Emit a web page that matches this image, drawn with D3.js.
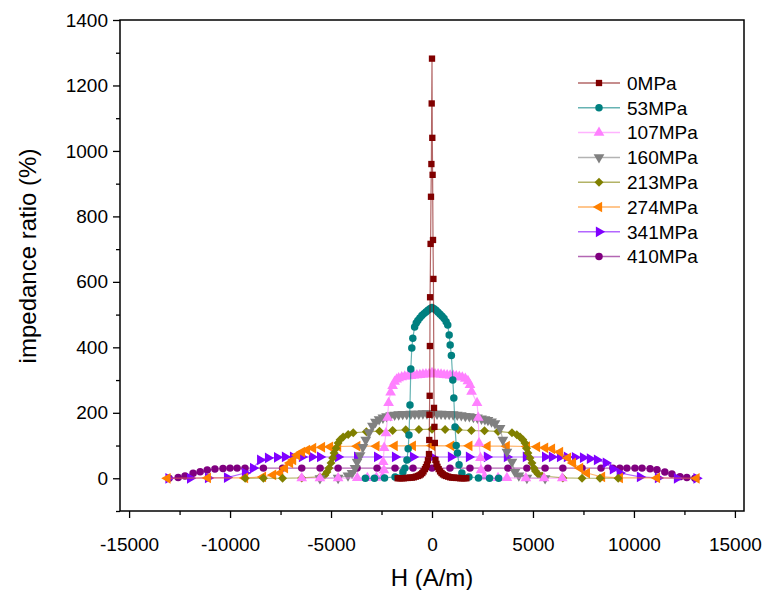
<!DOCTYPE html>
<html><head><meta charset="utf-8">
<script src="https://cdn.jsdelivr.net/npm/d3@7"></script>
<style>body{margin:0;background:#fff;} text{font-family:Arial,"Liberation Sans",sans-serif;fill:#000;}</style>
</head><body><svg id="c" width="763" height="590"></svg>
<script>
const seriesNames = ["0MPa","53MPa","107MPa","160MPa","213MPa","274MPa","341MPa","410MPa"];
const seriesColors = ["#800000","#008080","#ff80ff","#808080","#808000","#ff8000","#8000ff","#800080"];
const seriesSymbols = ["square","circle","triUp","triDown","diamond","triLeft","triRight","circle"];
const xTicks = [-15000,-10000,-5000,0,5000,10000,15000];
const yTicks = [0,200,400,600,800,1000,1200,1400];

const s0MPa = [[-1700,0],[-1600,0],[-1500,0],[-1400,0],[-1300,1],[-1200,1],[-1100,2],[-1000,2],[-900,3],[-800,5],[-700,7],[-620,9],[-550,12],[-480,16],[-420,21],[-350,28],[-300,34],[-250,42],[-200,55],[-150,74],[-135,117],[-125,194],[-115,252],[-105,404],[-95,553],[-70,716],[-50,860],[-30,960],[-15,1145],[0,1282],[15,1040],[30,927],[50,728],[70,609],[100,215],[120,157],[140,108],[170,56],[220,44],[270,35],[330,28],[400,21],[470,16],[540,12],[620,9],[700,7],[800,5],[900,3],[1000,2],[1100,2],[1200,1],[1300,1],[1400,0],[1500,0],[1600,0],[1700,0]];
const s53MPa = [[-3300,0],[-2850,0],[-2350,1],[-1830,4],[-1440,19],[-1340,31],[-1240,56],[-1180,90],[-1140,132],[-1090,224],[-1050,334],[-1000,398],[-950,428],[-860,462],[-780,474],[-700,482],[-600,490],[-500,497],[-400,503],[-300,508],[-200,513],[-100,518],[0,522],[100,518],[200,513],[300,507],[400,501],[500,495],[600,488],[700,478],[780,468],[850,438],[900,407],[960,375],[1030,300],[1080,245],[1140,157],[1200,100],[1260,77],[1340,41],[1480,16],[1830,4],[2300,1],[2850,0],[3300,0]];
const s107MPa = [[-6450,0],[-5550,0],[-4650,0],[-3700,1],[-3200,1],[-2750,2],[-2450,5],[-2380,25],[-2420,50],[-2370,93],[-2280,138],[-2200,185],[-2150,230],[-2050,262],[-1950,282],[-1850,295],[-1750,302],[-1650,306],[-1500,309],[-1350,311],[-1200,312],[-1050,313],[-900,314],[-750,315],[-600,316],[-450,317],[-300,318],[-150,318],[0,322],[150,318],[300,318],[450,317],[600,316],[750,315],[900,314],[1050,313],[1200,312],[1350,310],[1500,308],[1650,304],[1780,297],[1880,285],[1960,265],[2230,230],[2290,185],[2330,107],[2400,62],[2430,25],[2600,5],[3270,1],[3710,1],[4650,0],[5550,0],[6450,0]];
const s160MPa = [[-5550,0],[-4650,1],[-4160,8],[-3960,16],[-3810,31],[-3710,50],[-3560,70],[-3420,95],[-3280,117],[-3120,140],[-2950,160],[-2800,172],[-2620,180],[-2430,185],[-2250,189],[-2050,192],[-1850,194],[-1650,195],[-1450,196],[-1250,196],[-1050,197],[-850,197],[-650,197],[-450,198],[-250,198],[0,198],[250,197],[450,197],[650,196],[850,196],[1050,195],[1250,194],[1450,192],[1650,190],[1850,189],[2050,187],[2250,185],[2450,182],[2620,180],[2770,178],[2950,173],[3120,168],[3370,153],[3510,117],[3710,81],[3960,50],[4110,19],[4300,8],[4700,1],[5600,0]];
const s213MPa = [[-9250,0],[-8350,0],[-7400,0],[-6450,1],[-5550,4],[-5300,10],[-5200,19],[-5100,31],[-5000,47],[-4920,62],[-4850,77],[-4750,92],[-4650,108],[-4550,118],[-4400,126],[-4150,134],[-3900,139],[-3250,142],[-2600,144],[-1950,146],[-1300,148],[-650,149],[0,150],[650,149],[1300,148],[1950,146],[2600,145],[3270,143],[3960,139],[4200,133],[4360,126],[4500,118],[4600,108],[4680,92],[4750,77],[4850,62],[4950,47],[5050,31],[5120,22],[5250,13],[5450,7],[6480,1],[7430,0],[8320,0],[9220,0]];
const s274MPa = [[-13100,0],[-11100,1],[-9260,1],[-8370,4],[-7870,10],[-7520,16],[-7280,31],[-7030,47],[-6880,56],[-6680,71],[-6440,80],[-6190,86],[-5890,92],[-5450,95],[-5050,96],[-4650,97],[-3700,98],[-2750,98],[-1850,99],[-950,99],[0,100],[950,99],[1850,99],[2750,98],[3700,98],[4700,97],[5200,96],[5600,93],[5940,90],[6340,80],[6730,62],[6980,47],[7330,31],[7670,16],[8420,4],[9300,1],[11140,1],[13100,0]];
const s341MPa = [[-13050,0],[-11980,0],[-11090,1],[-10150,2],[-9260,16],[-8860,31],[-8510,56],[-8120,62],[-7670,64],[-7280,65],[-6880,65],[-6440,65],[-5940,65],[-5540,65],[-4650,65],[-3710,65],[-2720,65],[-1830,65],[-940,65],[0,65],[940,65],[1830,65],[2720,65],[3710,65],[4650,65],[5600,65],[5940,65],[6340,65],[6680,65],[7080,64],[7480,63],[7820,60],[8170,56],[8610,47],[8960,28],[9300,16],[10300,4],[11190,1],[12130,0],[13100,0]];
const s410MPa = [[-13020,0],[-12570,2],[-12230,7],[-11830,15],[-11480,20],[-11130,25],[-10750,28],[-10350,30],[-10000,31],[-9650,31],[-9260,31],[-8350,31],[-7400,31],[-6450,31],[-5540,31],[-4650,31],[-3710,31],[-2720,31],[-1830,31],[-940,31],[0,31],[890,31],[1880,31],[2770,31],[3760,31],[4700,31],[5600,31],[6480,31],[7430,31],[8370,31],[8960,31],[9300,31],[9650,31],[10050,31],[10400,31],[10800,29],[11140,26],[11530,19],[11880,13],[12280,5],[12620,2],[13020,0]];

const seriesData = [s0MPa,s53MPa,s107MPa,s160MPa,s213MPa,s274MPa,s341MPa,s410MPa];

const svg = d3.select("#c");
const L=120,R=744,T=20,B=511;
const x = d3.scaleLinear().domain([-15450,15450]).range([L,R]);
const y = d3.scaleLinear().domain([-100,1400]).range([B,T]);

function symPath(kind){
  const tri = d3.symbol().type(d3.symbolTriangle).size(50)();
  if(kind==="square") return {d:d3.symbol().type(d3.symbolSquare).size(40)(),rot:0};
  if(kind==="circle") return {d:d3.symbol().type(d3.symbolCircle).size(44)(),rot:0};
  if(kind==="diamond") return {d:d3.symbol().type(d3.symbolSquare).size(40)(),rot:45};
  if(kind==="triUp") return {d:tri,rot:0};
  if(kind==="triDown") return {d:tri,rot:180};
  if(kind==="triLeft") return {d:tri,rot:-90};
  if(kind==="triRight") return {d:tri,rot:90};
}

const plot = svg.append("g");
const line = d3.line().x(d=>x(d[0])).y(d=>y(d[1]));
for(let i=seriesData.length-1;i>=0;i--){
  const g = plot.append("g");
  const c = seriesColors[i];
  g.append("path").attr("d",line(seriesData[i])).attr("fill","none").attr("stroke",c).attr("stroke-width",1.2).attr("stroke-opacity",0.6);
  const sp = symPath(seriesSymbols[i]);
  g.selectAll("path.m").data(seriesData[i]).join("path").attr("class","m")
    .attr("d",sp.d).attr("fill",c)
    .attr("transform",d=>`translate(${x(d[0])},${y(d[1])}) rotate(${sp.rot})`);
}

// axes
const ax = svg.append("g").attr("transform",`translate(0,${B})`)
  .call(d3.axisBottom(x).tickValues(xTicks).tickSize(7).tickPadding(20).tickFormat(d3.format("d")));
const axm = svg.append("g").attr("transform",`translate(0,${B})`)
  .call(d3.axisBottom(x).tickValues(d3.range(-12500,15000,5000)).tickSize(4).tickFormat(""));
const ay = svg.append("g").attr("transform",`translate(${L},0)`)
  .call(d3.axisLeft(y).tickValues(yTicks).tickSize(7).tickPadding(5).tickFormat(d3.format("d")));
const aym = svg.append("g").attr("transform",`translate(${L},0)`)
  .call(d3.axisLeft(y).tickValues(d3.range(-100,1400,200)).tickSize(4).tickFormat(""));
[ax,axm,ay,aym].forEach(a=>{a.select(".domain").remove(); a.selectAll("line").attr("stroke","#000").attr("stroke-width",1.3);});
ax.selectAll("text").style("font-size","19px").attr("font-family","Arial, Liberation Sans, sans-serif");
ay.selectAll("text").style("font-size","19px").attr("font-family","Arial, Liberation Sans, sans-serif");
ax.selectAll("text").text(d=>d<0?"-"+Math.abs(d):d);
ay.selectAll("text").text(d=>d<0?"-"+Math.abs(d):d);
svg.append("rect").attr("x",L).attr("y",T).attr("width",R-L).attr("height",B-T)
  .attr("fill","none").attr("stroke","#000").attr("stroke-width",1.5);

svg.append("text").attr("x",432).attr("y",586).attr("text-anchor","middle").style("font-size","24px").text("H (A/m)");
svg.append("text").attr("transform","translate(36,256) rotate(-90)").attr("text-anchor","middle").style("font-size","24px").text("impedance ratio (%)");

// legend
const lg = svg.append("g");
seriesNames.forEach((n,i)=>{
  const yy = 83 + i*24.8;
  const c = seriesColors[i];
  lg.append("line").attr("x1",578).attr("x2",620).attr("y1",yy).attr("y2",yy).attr("stroke",c).attr("stroke-width",1.5).attr("stroke-opacity",0.6);
  const sp = symPath(seriesSymbols[i]);
  lg.append("path").attr("d",sp.d).attr("fill",c).attr("transform",`translate(599,${yy}) rotate(${sp.rot})`);
  lg.append("text").attr("x",627).attr("y",yy).attr("dy","0.36em").style("font-size","19px").text(n);
});
</script></body></html>
